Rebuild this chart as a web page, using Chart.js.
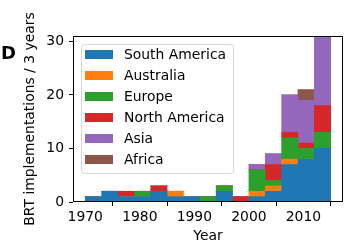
<!DOCTYPE html>
<html>
<head>
<meta charset="utf-8">
<script src="https://cdn.jsdelivr.net/npm/chart.js@4"></script>
<style>
  html, body { margin: 0; padding: 0; background: #fff; }
  #wrap { width: 350px; height: 250px; }
</style>
</head>
<body>
<div id="wrap"><canvas id="chart" width="350" height="250"></canvas></div>
<script>
// 3-year bins, start year of each bin
const binStarts = [1970, 1973, 1976, 1979, 1982, 1985, 1988, 1991, 1994, 1997, 2000, 2003, 2006, 2009, 2012];
const binWidth = 3;

const southAmerica = [1, 2, 1, 1, 2, 1, 1, 0, 2, 0, 1, 2, 7, 8, 10];
const australia    = [0, 0, 0, 0, 0, 1, 0, 0, 0, 0, 1, 1, 1, 0, 0];
const europe       = [0, 0, 0, 1, 0, 0, 0, 1, 1, 0, 4, 1, 4, 2, 3];
const northAmerica = [0, 0, 1, 0, 1, 0, 0, 0, 0, 1, 0, 3, 1, 1, 5];
const asia         = [0, 0, 0, 0, 0, 0, 0, 0, 0, 0, 1, 2, 7, 8, 13];
const africa       = [0, 0, 0, 0, 0, 0, 0, 0, 0, 0, 0, 0, 0, 2, 0];

const seriesNames = ["South America", "Australia", "Europe", "North America", "Asia", "Africa"];
const seriesValues = [southAmerica, australia, europe, northAmerica, asia, africa];
const colors = ["#1f77b4", "#ff7f0e", "#2ca02c", "#d62728", "#9467bd", "#8c564b"];

const xTicks = [1970, 1980, 1990, 2000, 2010];
const yTicks = [0, 10, 20, 30];

const FONT = "DejaVu Sans";
const FS = 13.9;

const datasets = seriesNames.map((name, i) => ({
  label: name,
  data: seriesValues[i].map((v, j) => ({ x: binStarts[j] + binWidth / 2, y: v })),
  backgroundColor: colors[i],
  borderWidth: 0,
  barPercentage: 1,
  categoryPercentage: 1,
}));

// frame, in-plot legend and panel letter
const extras = {
  id: "extras",
  afterDraw(chart) {
    const ctx = chart.ctx;
    const a = chart.chartArea;
    ctx.save();
    ctx.strokeStyle = "#000";
    ctx.lineWidth = 1;
    ctx.strokeRect(Math.round(a.left) + 0.5, Math.round(a.top) + 0.5,
      Math.round(a.right - a.left) - 1, Math.round(a.bottom - a.top) - 1);

    // legend
    ctx.font = `${FS}px '${FONT}'`;
    const maxW = Math.max(...seriesNames.map((n) => ctx.measureText(n).width));
    const bx = a.left + 8, by = a.top + 8;
    const bw = 43 + maxW + 7, bh = 129;
    ctx.beginPath();
    ctx.roundRect(bx + 0.5, by + 0.5, bw, bh, 3);
    ctx.fillStyle = "rgba(255,255,255,0.8)";
    ctx.fill();
    ctx.strokeStyle = "#d6d6d6";
    ctx.stroke();
    ctx.textBaseline = "middle";
    ctx.textAlign = "left";
    seriesNames.forEach((n, i) => {
      const cy = by + 10.5 + 21 * i;
      ctx.fillStyle = colors[i];
      ctx.fillRect(bx + 4, cy - 4.5, 28, 9);
      ctx.fillStyle = "#000";
      ctx.fillText(n, bx + 43, cy + 1);
    });

    ctx.font = `bold 18px '${FONT}'`;
    ctx.fillText("D", 1, 54);
    ctx.restore();
  },
};

new Chart(document.getElementById("chart"), {
  type: "bar",
  data: { datasets },
  plugins: [extras],
  options: {
    responsive: false,
    animation: false,
    layout: { padding: { left: 0, right: 7, top: 36, bottom: 0 } },
    plugins: { legend: { display: false }, tooltip: { enabled: false } },
    scales: {
      x: {
        type: "linear",
        stacked: true,
        min: 1967.75,
        max: 2017.25,
        offset: false,
        afterFit: (s) => { s.height = 48; },
        afterBuildTicks: (s) => { s.ticks = xTicks.map((v) => ({ value: v })); },
        grid: { drawOnChartArea: false, tickLength: 4, tickColor: "#000" },
        border: { display: false },
        ticks: { color: "#000", padding: 3, font: { family: FONT, size: FS }, maxRotation: 0, callback: (v) => String(v) },
        title: { display: true, text: "Year", color: "#000", font: { family: FONT, size: FS }, padding: { top: 0, bottom: 5 } },
      },
      y: {
        stacked: true,
        min: 0,
        max: 31,
        afterFit: (s) => { s.width = 73; },
        afterBuildTicks: (s) => { s.ticks = yTicks.map((v) => ({ value: v })); },
        grid: { drawOnChartArea: false, tickLength: 4, tickColor: "#000" },
        border: { display: false },
        ticks: { color: "#000", padding: 5, font: { family: FONT, size: FS } },
        title: { display: true, text: "BRT implementations / 3 years", color: "#000", font: { family: FONT, size: FS }, padding: { top: 22, bottom: 0 } },
      },
    },
  },
});
</script>
</body>
</html>
